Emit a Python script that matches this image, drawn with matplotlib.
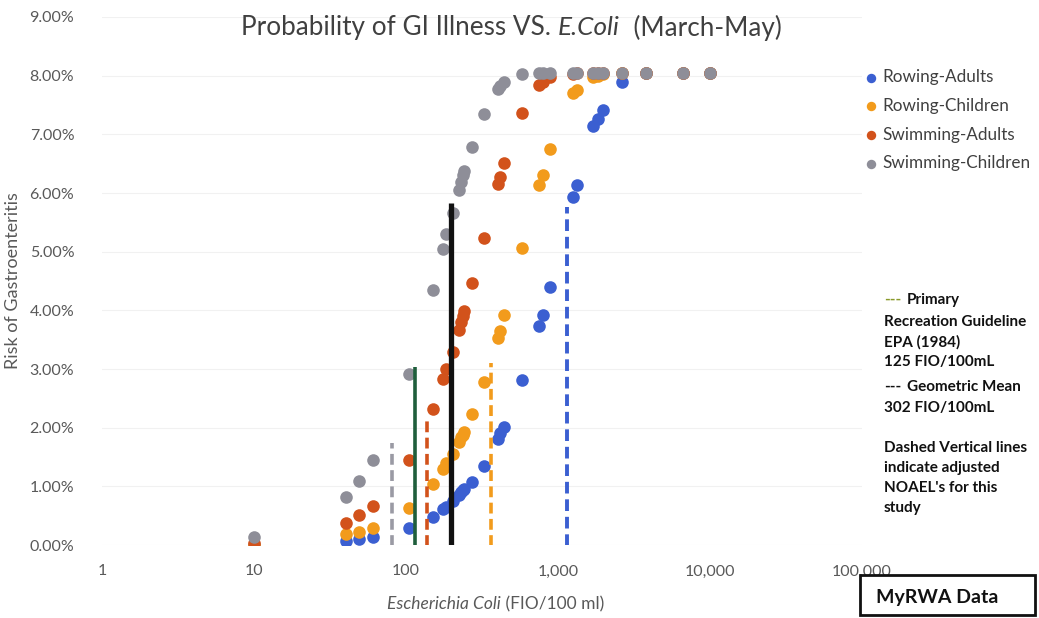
import matplotlib
matplotlib.use("Agg")
import matplotlib.pyplot as plt
from matplotlib.ticker import FixedLocator, FuncFormatter

plt.rcParams['font.family'] = ['Lato', 'DejaVu Sans']

# E. coli concentration (FIO/100 ml) shared by all four curves
ecoli = [10, 40, 49, 61, 105, 150, 175, 183, 204, 224, 230, 237, 240, 272, 326,
         403, 415, 442, 580, 750, 800, 880, 1260, 1330, 1700, 1820, 1990, 2640,
         3800, 6640, 10000]

# risk of gastroenteritis, percent
rowing_adults = [0.00, 0.07, 0.11, 0.14, 0.29, 0.48, 0.61, 0.65, 0.75, 0.85, 0.90,
                 0.93, 0.95, 1.07, 1.35, 1.81, 1.91, 2.01, 2.81, 3.73, 3.92, 4.40,
                 5.93, 6.13, 7.14, 7.26, 7.41, 7.89, 8.04, 8.05, 8.05]
rowing_children = [0.00, 0.19, 0.23, 0.29, 0.63, 1.04, 1.29, 1.39, 1.55, 1.75, 1.84,
                   1.88, 1.93, 2.23, 2.78, 3.53, 3.65, 3.92, 5.06, 6.13, 6.30, 6.75,
                   7.70, 7.75, 7.97, 8.00, 8.02, 8.04, 8.05, 8.05, 8.05]
swimming_adults = [0.03, 0.38, 0.51, 0.67, 1.45, 2.32, 2.83, 3.00, 3.29, 3.66, 3.80,
                   3.90, 3.99, 4.46, 5.23, 6.15, 6.27, 6.51, 7.37, 7.84, 7.89, 7.97,
                   8.03, 8.04, 8.05, 8.05, 8.05, 8.05, 8.05, 8.05, 8.05]
swimming_children = [0.14, 0.82, 1.09, 1.45, 2.91, 4.35, 5.04, 5.30, 5.66, 6.05, 6.18,
                     6.30, 6.37, 6.78, 7.34, 7.77, 7.82, 7.89, 8.02, 8.05, 8.05, 8.05,
                     8.05, 8.05, 8.05, 8.05, 8.05, 8.05, 8.05, 8.05, 8.05]

series_names = ['Rowing-Adults', 'Rowing-Children', 'Swimming-Adults', 'Swimming-Children']
series_colors = ['#3b5fd1', '#f29b1c', '#d2521b', '#8e8e98']

# vertical reference lines: x, top (%), colour, style, width
ref_x = [81, 115, 137, 198, 362, 1146]
ref_top = [1.74, 3.03, 2.18, 5.83, 3.10, 5.76]
ref_colors = ['#9a9aa4', '#1f5e3c', '#d2521b', '#111111', '#f29b1c', '#3b5fd1']
ref_styles = ['--', '-', '--', '-', '--', '--']
ref_widths = [2.6, 2.6, 2.6, 3.8, 2.6, 2.8]

fig = plt.figure(figsize=(10.39, 6.18), dpi=100)
ax = fig.add_axes([0.0982, 0.1181, 0.7314, 0.8544])

for ys, c, name in zip([rowing_adults, rowing_children, swimming_adults, swimming_children],
                       series_colors, series_names):
    ax.scatter(ecoli, ys, s=82, color=c, label=name, zorder=3, linewidths=0)

for x, top, c, ls, lw in zip(ref_x, ref_top, ref_colors, ref_styles, ref_widths):
    if ls == '--':
        ax.plot([x, x], [-0.02, top], color=c, lw=lw, dashes=(3.0, 1.5), zorder=4,
                solid_capstyle='butt')
    else:
        ax.plot([x, x], [0, top], color=c, lw=lw, zorder=4, solid_capstyle='butt')

ax.set_xscale('log')
ax.set_xlim(1, 100000)
ax.set_ylim(0, 9)
ax.xaxis.set_major_locator(FixedLocator([1, 10, 100, 1000, 10000, 100000]))
ax.xaxis.set_minor_locator(FixedLocator([]))
ax.xaxis.set_major_formatter(FuncFormatter(lambda v, p: f'{int(v):,}'))
ax.yaxis.set_major_locator(FixedLocator(range(10)))
ax.yaxis.set_major_formatter(FuncFormatter(lambda v, p: f'{v:.2f}%'))
ax.tick_params(length=0, labelsize=11.5, colors='#595959', pad=14)
ax.tick_params(axis='y', pad=20)
for s in ax.spines.values():
    s.set_visible(False)
ax.grid(axis='y', color='#f1f1f1', lw=0.8, zorder=0)

ax.set_ylabel('Risk of Gastroenteritis', fontsize=13, color='#595959', labelpad=6)


def mixed_text(xc, y, parts, size, color):
    """Centre a line made of (text, style) pieces at figure coords xc, y."""
    r = fig.canvas.get_renderer()
    objs = [fig.text(0, y, t, fontsize=size, style=st, color=color, va='center')
            for t, st in parts]
    widths = [o.get_window_extent(r).width for o in objs]
    x = xc * fig.bbox.width - sum(widths) / 2
    for o, w in zip(objs, widths):
        o.set_x(x / fig.bbox.width)
        x += w


mixed_text(0.492, 0.955, [('Probability of GI Illness VS. ', 'normal'),
                          ('E.Coli', 'italic'), ('  (March-May)', 'normal')],
           18.8, '#404040')
mixed_text(0.477, 0.022, [('Escherichia Coli', 'italic'), (' (FIO/100 ml)', 'normal')],
           12.5, '#595959')

leg = fig.legend(loc='upper left', bbox_to_anchor=(862 / 1039, 1 - 69 / 618),
                 frameon=False, fontsize=12.3, handlelength=1.0, handletextpad=0.2,
                 labelspacing=0.75, markerscale=0.75, borderpad=0, borderaxespad=0,
                 labelcolor='#404040')

# notes on the reference lines
notes = [(300, 'Primary', '#8a9a2a'), (322, 'Recreation Guideline', None),
         (342, 'EPA (1984)', None), (362, '125 FIO/100mL', None),
         (387, 'Geometric Mean', '#111111'), (408, '302 FIO/100mL', None),
         (448, 'Dashed Vertical lines', None), (468, 'indicate adjusted', None),
         (488, "NOAEL's for this", None), (508, 'study', None)]
for ypx, txt, dash_color in notes:
    y = 1 - ypx / 618
    if dash_color:
        fig.text(884 / 1039, y, '---', color=dash_color, fontsize=11, weight='bold',
                 va='center', ha='left')
        fig.text(907 / 1039, y, txt, color='#111111', fontsize=11, weight='bold',
                 va='center', ha='left')
    else:
        fig.text(884 / 1039, y, txt, color='#111111', fontsize=11, weight='bold',
                 va='center', ha='left')

box = plt.Rectangle((860 / 1039, 1 - 615 / 618), 175 / 1039, 40 / 618,
                    transform=fig.transFigure, fill=False, edgecolor='#111111', lw=2)
fig.add_artist(box)
fig.text(937 / 1039, 1 - 597 / 618, 'MyRWA Data', ha='center', va='center',
         fontsize=14, weight='bold', color='#111111')

fig.savefig('out.png', dpi=100)
